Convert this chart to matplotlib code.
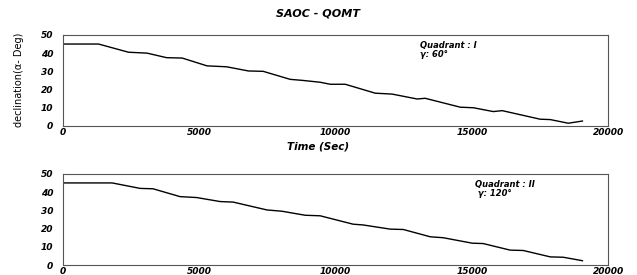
import matplotlib

matplotlib.use("Agg")
import matplotlib.pyplot as plt  # noqa: E402

# Quadrant I (gamma = 60 deg): time (s) vs declination (deg)
T1 = [0, 1300, 2400, 3080, 3800, 4370, 5280, 6000, 6800, 7340, 8330, 8800,
      9430, 9800, 10350, 11450, 12070, 12990, 13280, 14570, 15050, 15780,
      16110, 17500, 17870, 18530, 19050]
D1 = [45, 45, 40.5, 40, 37.5, 37.3, 33, 32.5, 30.2, 30, 25.6, 25, 24, 22.9,
      22.9, 18, 17.5, 14.8, 15.2, 10.3, 10, 7.9, 8.4, 3.7, 3.5, 1.5, 2.7]

# Quadrant II (gamma = 120 deg)
T2 = [0, 1800, 2830, 3300, 4290, 4900, 5760, 6240, 7480, 8030, 8880, 9430,
      10640, 11000, 12000, 12480, 13470, 13940, 15010, 15410, 16400, 16880,
      17870, 18350, 19050]
D2 = [45, 45, 42, 41.8, 37.5, 37, 34.8, 34.5, 30.2, 29.5, 27.3, 27, 22.4, 22,
      19.7, 19.5, 15.5, 15, 12, 11.8, 8.2, 8, 4.5, 4.3, 2.4]

XTICKS = [0, 5000, 10000, 15000, 20000]
YTICKS = [0, 10, 20, 30, 40, 50]
NOTES = ["Quadrant : I\nγ: 60°", "Quadrant : II\n γ: 120°"]
NOTE_X = [0.655, 0.755]

FRAME = "#555555"


def style(ax):
    ax.set_xlim(0, 20000)
    ax.set_ylim(0, 50)
    ax.set_xticks(XTICKS)
    ax.set_yticks(YTICKS)
    ax.tick_params(axis="x", length=0, pad=1.5, labelsize=6.5)
    ax.tick_params(axis="y", length=0, pad=7, labelsize=6.5)
    for lab in ax.get_xticklabels() + ax.get_yticklabels():
        lab.set_fontweight("bold")
        lab.set_fontstyle("italic")
    for s in ax.spines.values():
        s.set_color(FRAME)
        s.set_linewidth(0.8)


fig = plt.figure(figsize=(6.37, 2.75), dpi=100)
ax1 = fig.add_axes([0.099, 0.542, 0.856, 0.331])
ax2 = fig.add_axes([0.099, 0.036, 0.856, 0.332])

for ax, t, d, note, nx in ((ax1, T1, D1, NOTES[0], NOTE_X[0]),
                           (ax2, T2, D2, NOTES[1], NOTE_X[1])):
    ax.plot(t, d, color="black", lw=1.0)
    style(ax)
    ax.text(nx, 0.93, note, transform=ax.transAxes, fontsize=6,
            fontweight="bold", fontstyle="italic", va="top", ha="left",
            linespacing=1.0)

fig.text(0.5, 0.95, "SAOC - QOMT", ha="center", va="center", fontsize=8,
         fontweight="bold", fontstyle="italic")
fig.text(0.5, 0.468, "Time (Sec)", ha="center", va="center", fontsize=7.5,
         fontweight="bold", fontstyle="italic")
fig.text(0.03, 0.71, "declination(α- Deg)", rotation=90, ha="center",
         va="center", fontsize=7,
         family=["Liberation Sans Narrow", "DejaVu Sans"])

fig.savefig("out.png", dpi=100)
